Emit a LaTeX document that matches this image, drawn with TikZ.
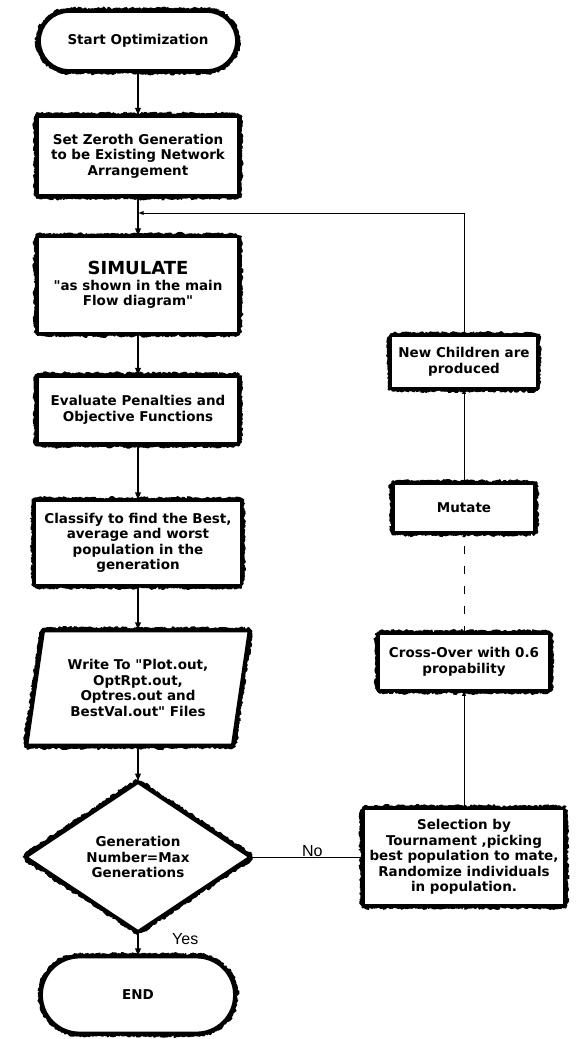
\documentclass[tikz,border=0pt]{standalone}
\usepackage{fontspec}
\setmainfont{DejaVu Sans}[Ligatures=TeXOff]
\newfontfamily\labelfont{Liberation Sans}
\usetikzlibrary{shapes, arrows, decorations.pathmorphing, positioning}

\tikzset{
  fuzz/.style={preaction={draw, line width=8pt, line join=bevel, decorate,
      decoration={random steps, segment length=0.8pt, amplitude=1.6pt}},
    preaction={draw, line width=6pt, line join=bevel, xshift=2pt, yshift=-2pt, decorate,
      decoration={random steps, segment length=0.8pt, amplitude=1.8pt}}},
  base/.style={draw, fuzz, fill=white, line width=1.8pt, align=center, inner sep=1pt,
      font=\bfseries\fontsize{13.5}{15.5}\selectfont},
  block/.style={base, rectangle, minimum width=200pt},
  smallblock/.style={base, rectangle},
  term/.style={base, rounded rectangle, minimum width=198pt},
  io/.style={base, trapezium, trapezium left angle=78, trapezium right angle=102,
      trapezium stretches=true, minimum width=221pt, minimum height=113pt},
  decision/.style={base, diamond, minimum width=223pt, minimum height=136pt},
  flow/.style={->, line width=1.8pt},
  link/.style={->, line width=0.9pt},
  answer/.style={font=\labelfont\fontsize{16}{18}\selectfont}
}

\begin{document}
\begin{tikzpicture}[>=latex, on grid]
  \useasboundingbox (0,0) rectangle (579pt,-1039pt);

  \node[term, minimum height=58pt] (start) at (138pt,-41pt) {Start Optimization};
  \node[block, minimum height=78pt] (zeroth) [below=115pt of start] {Set Zeroth Generation\\to be Existing Network\\Arrangement};
  \node[block, minimum height=95pt] (sim) [below=129pt of zeroth] {{\fontsize{18}{21}\selectfont SIMULATE}\\"as shown in the main\\Flow diagram"};
  \node[block, minimum height=66pt] (eval) [below=125pt of sim] {Evaluate Penalties and\\Objective Functions};
  \node[block, minimum width=205pt, minimum height=83pt] (classify) [below=133pt of eval] {Classify to find the Best,\\average and worst\\population in the\\generation};
  \node[io] (write) [below=145pt of classify] {Write To "Plot.out,\\OptRpt.out,\\Optres.out and\\BestVal.out" Files};
  \node[decision] (decide) [below=169pt of write] {Generation\\Number=Max\\Generations};
  \node[term, minimum width=194pt, minimum height=75pt] (stop) [below=138pt of decide] {END};
  \coordinate[below=57pt of zeroth] (merge);

  \node[smallblock, minimum width=200pt, minimum height=95pt] (select) [right=326pt of decide] {Selection by\\Tournament ,picking\\best population to mate,\\Randomize individuals\\in population.};
  \node[smallblock, minimum width=170pt, minimum height=55pt] (cross) [above=195pt of select] {Cross-Over with 0.6\\propability};
  \node[smallblock, minimum width=140pt, minimum height=47pt] (mutate) [above=154pt of cross] {Mutate};
  \node[smallblock, minimum width=145pt, minimum height=51pt] (kids) [above=146pt of mutate] {New Children are\\produced};

  % main column
  \draw[flow] (start) -- (zeroth);
  \draw[flow] (zeroth) -- (sim);
  \draw[flow] (sim) -- (eval);
  \draw[flow] (eval) -- (classify);
  \draw[flow] (classify) -- (write);
  \draw[flow] (write) -- (decide);
  \draw[flow] (decide) -- node[answer, right=30pt, pos=0.3] {Yes} (stop);

  % genetic loop
  \draw[line width=0.9pt] (decide) -- node[answer, above, pos=0.55, inner sep=0pt] {No} (select);
  \draw[link] (select) -- (cross);
  \draw[link, line width=0.6pt, dash pattern=on 8pt off 12pt] (cross) -- (mutate);
  \draw[link] (mutate) -- (kids);
  \draw[link] (kids) |- (merge);
\end{tikzpicture}
\end{document}
